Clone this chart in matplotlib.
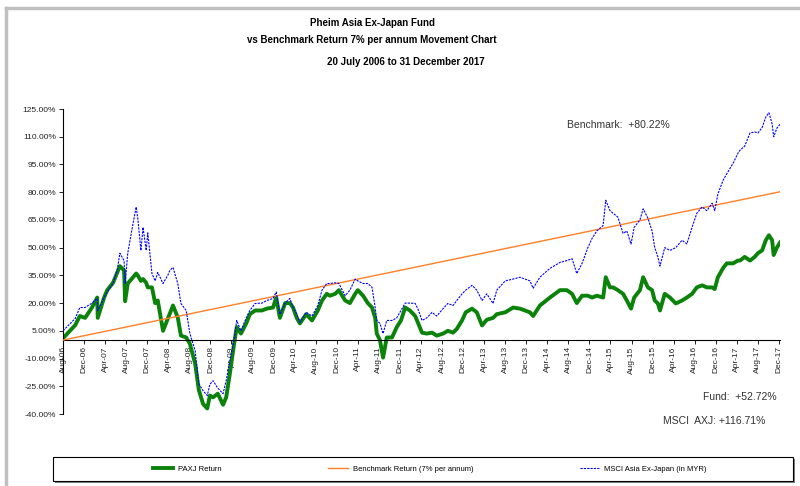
import matplotlib
matplotlib.use('Agg')
import matplotlib.pyplot as plt
from matplotlib.patches import Rectangle
from matplotlib.lines import Line2D

plt.rcParams['font.family'] = ['Liberation Sans', 'DejaVu Sans']

# months elapsed since Aug-06
months = [0.0, 2.3, 3.2, 4.2, 5.5, 6.5, 6.6, 7.8, 8.4, 9.5, 10.3, 10.8, 11.6, 11.8, 12.3,
          13.3, 13.9, 14.2, 14.8, 15.2, 15.8, 16.1, 16.9, 17.5, 18.0, 19.0, 19.9, 20.3,
          20.9, 21.8, 22.4, 23.4, 24.1, 25.1, 25.8, 26.6, 27.4, 27.9, 28.5, 29.4, 30.4,
          31.0, 31.7, 32.5, 33.0, 33.8, 34.8, 35.5, 36.5, 37.8, 38.7, 39.9, 40.5, 41.2,
          42.2, 43.1, 43.7, 44.4, 45.0, 46.2, 47.3, 48.4, 49.2, 50.1, 50.7, 51.7, 52.4,
          53.6, 54.5, 55.5, 56.0, 57.0, 57.9, 58.7, 59.3, 59.6, 60.2, 60.8, 61.5, 62.5,
          63.4, 64.2, 65.0, 65.9, 66.9, 67.4, 68.2, 69.1, 70.1, 71.0, 72.2, 73.1, 74.1,
          74.8, 75.8, 76.5, 77.7, 78.6, 79.6, 80.5, 81.7, 82.4, 84.0, 85.5, 86.8, 88.7,
          89.3, 90.6, 92.5, 94.4, 95.7, 96.7, 97.6, 98.6, 99.7, 100.5, 101.4, 102.6,
          103.1, 103.9, 104.5, 105.4, 106.4, 107.1, 107.9, 108.5, 109.6, 110.2, 111.1,
          111.9, 112.4, 113.0, 113.4, 114.3, 115.3, 116.4, 117.6, 118.5, 119.5, 120.4,
          121.4, 122.3, 123.3, 123.8, 124.4, 125.4, 126.1, 127.3, 128.2, 128.6, 129.5,
          130.5, 131.4, 132.0, 132.8, 133.5, 134.1, 134.7, 135.0, 135.6, 136.2]

fund = [1, 8, 13, 12, 17.6, 23, 12, 23, 27, 31, 36.6, 40, 37.7, 21, 30.6,
        34, 36, 35, 32, 33, 31, 28.5, 28.5, 20, 21.4, 5, 11.6, 14.4,
        18.7, 12.2, 2.4, 1.4, -2, -12.7, -27, -34.5, -37, -30, -31, -29, -35,
        -31, -18, -2, 7, 3.5, 9, 14, 16, 16, 17, 17.6, 23, 12,
        20, 20, 17.6, 12, 9, 14, 10.6, 16, 21.4, 25, 24, 25, 27,
        21.4, 20, 25, 27, 24, 20, 17.6, 12, 3.5, 0, -9.5, 1.4, 1.4,
        7, 10.6, 17.6, 16, 13, 9.5, 4, 3.5, 4, 2.4, 3.5, 5, 4,
        6, 10.6, 15, 17, 15, 7.9, 11, 12, 14, 15, 17.6, 17, 15,
        13, 18.7, 23, 27, 27, 25, 20, 24, 24, 23, 24, 23,
        34, 28.5, 28.5, 27, 25, 21.4, 17, 23, 27, 34, 28.5,
        27, 21.4, 19.8, 16, 25, 23, 19.8, 21.4, 23, 25, 28.5,
        29.6, 28.5, 28.5, 27.6, 34, 39, 41.5, 41.5, 43, 43, 45,
        43, 45, 47, 48.5, 54, 56.7, 54, 46, 50, 52.72]

msci = [5, 11.6, 17.6, 17.6, 20, 22.5, 16, 23, 26, 30.6, 37.7, 47, 43, 30.6, 47,
        63, 72, 66, 48.5, 61, 48.5, 58, 36, 32, 36.6, 30.6, 35, 37.7,
        39.3, 30.6, 19.8, 16, 3.5, -5.7, -23.6, -27.4, -30, -24, -22, -26, -29,
        -22, -11, 0, 10.6, 5, 12, 16, 19.8, 20, 21.4, 22.5, 26, 14,
        20, 22.5, 17.6, 14, 9.5, 15, 13, 18.7, 27, 30.6, 30.6, 31, 30.6,
        24, 27, 33, 32, 30.6, 30.6, 28.5, 17.6, 10.6, 9, 3.5, 10.6, 10.6,
        12, 16, 20, 20, 19.8, 17, 10.6, 12, 15, 13, 17, 19.8, 18.7,
        21.4, 25, 27, 29.6, 27, 21.4, 25, 19.8, 27, 32, 33, 34, 32,
        28, 34, 38.8, 42, 43, 44, 36, 41.5, 50, 55, 59, 62,
        75.6, 70, 68.6, 66.5, 57.7, 59, 52, 61, 65, 71, 66,
        59, 50, 45, 40, 50, 48.5, 50, 54, 52, 61, 68.6,
        72, 70, 74, 70, 79, 86.5, 90, 95.7, 101, 102.7, 105,
        112, 112.6, 112, 115, 120.6, 123, 117, 110, 114.6, 116.71]

bench_months = [0.0, 136.2]
bench = [0.0, 80.22]

xtick_labels = ['Aug-06', 'Dec-06', 'Apr-07', 'Aug-07', 'Dec-07', 'Apr-08', 'Aug-08',
                'Dec-08', 'Apr-09', 'Aug-09', 'Dec-09', 'Apr-10', 'Aug-10', 'Dec-10',
                'Apr-11', 'Aug-11', 'Dec-11', 'Apr-12', 'Aug-12', 'Dec-12', 'Apr-13',
                'Aug-13', 'Dec-13', 'Apr-14', 'Aug-14', 'Dec-14', 'Apr-15', 'Aug-15',
                'Dec-15', 'Apr-16', 'Aug-16', 'Dec-16', 'Apr-17', 'Aug-17', 'Dec-17']
yticks = [-40, -25, -10, 5, 20, 35, 50, 65, 80, 95, 110, 125]

W, H = 800, 486
fig = plt.figure(figsize=(W / 100, H / 100), dpi=100)
fig.patch.set_facecolor('white')


def fx(px):
    return px / W


def fy(py):
    return 1 - py / H


# outer gray border (left and top only visible)
fig.add_artist(Line2D([fx(6), fx(6)], [fy(8), fy(H + 5)], color='#c0c0c0', lw=2.5))
fig.add_artist(Line2D([fx(6), fx(W + 5)], [fy(8), fy(8)], color='#c0c0c0', lw=2.5))

ax = fig.add_axes([fx(63), fy(414), fx(780) - fx(63), fy(109) - fy(414)])
ax.set_facecolor('none')

ax.plot(months, fund, color='#0b830b', lw=2.8, zorder=2, label='PAXJ Return')
ax.plot(bench_months, bench, color='#ff7f27', lw=1.0, zorder=3,
        label='Benchmark Return (7% per annum)')
ax.plot(months, msci, color='#0000ff', lw=0.8, ls=(0, (2, 1)), zorder=4,
        label='MSCI Asia Ex-Japan (in MYR)')

ax.set_xlim(0, 136.2)
ax.set_ylim(-40, 125)

for s in ['top', 'right']:
    ax.spines[s].set_visible(False)
ax.spines['bottom'].set_position(('data', 0))
ax.spines['bottom'].set_linewidth(0.8)
ax.spines['left'].set_linewidth(0.8)

ax.set_xticks(range(0, 137, 4))
ax.set_xticklabels(xtick_labels, rotation=90, fontsize=6, color='#222222')
ax.set_yticks(yticks)
ax.set_yticklabels(['{:.2f}%'.format(v) for v in yticks], fontsize=6, color='#222222')
ax.tick_params(axis='x', direction='out', length=3, width=0.6, pad=1.5)
ax.tick_params(axis='y', direction='out', length=3, width=0.6, pad=2)

# titles
fig.text(fx(372), fy(23), 'Pheim Asia Ex-Japan Fund', ha='center', va='center',
         fontsize=7, weight='bold')
fig.text(fx(372), fy(40), 'vs Benchmark Return 7% per annum Movement Chart', ha='center',
         va='center', fontsize=7, weight='bold')
fig.text(fx(406), fy(62), '20 July 2006 to 31 December 2017', ha='center', va='center',
         fontsize=7, weight='bold')

# end-value notes
fig.text(fx(567), fy(125), 'Benchmark:  +80.22%', ha='left', va='center', fontsize=7.5,
         color='#333333')
fig.text(fx(703), fy(397), 'Fund:  +52.72%', ha='left', va='center', fontsize=7.5,
         color='#333333')
fig.text(fx(663), fy(421), 'MSCI  AXJ: +116.71%', ha='left', va='center', fontsize=7.5,
         color='#333333')

# legend box with shadow
fig.add_artist(Rectangle((fx(55), fy(483)), fx(795) - fx(55), fy(459) - fy(483),
                         transform=fig.transFigure, facecolor='#7f7f7f', edgecolor='none'))
fig.add_artist(Rectangle((fx(53), fy(481)), fx(793) - fx(53), fy(457) - fy(481),
                         transform=fig.transFigure, facecolor='white', edgecolor='black',
                         lw=0.8))
leg = fig.legend(loc='center', bbox_to_anchor=(fx(430), fy(469)), ncol=3, frameon=False,
                 fontsize=5.5, handlelength=2.6, handletextpad=0.6, columnspacing=14)
leg.set_zorder(5)

fig.savefig('out.png', dpi=100)
